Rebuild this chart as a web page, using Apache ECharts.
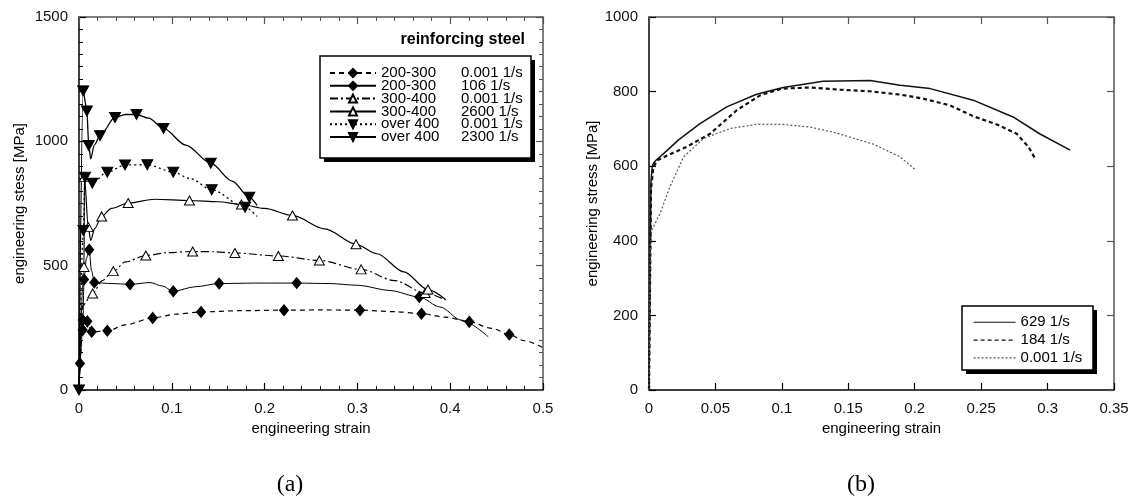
<!DOCTYPE html>
<html>
<head>
<meta charset="utf-8">
<script src="https://cdn.jsdelivr.net/npm/echarts@6/dist/echarts.min.js"></script>
<style>
  html, body { margin: 0; padding: 0; background: #fff; }
  #chart { width: 1140px; height: 499px; }
</style>
</head>
<body>
<div id="chart"></div>
<script>
// ---------- (a) reinforcing steel: engineering stress [MPa] vs engineering strain ----------
const steelGrades = ['200-300', '200-300', '300-400', '300-400', 'over 400', 'over 400'];
const steelRates  = ['0.001 1/s', '106 1/s', '0.001 1/s', '2600 1/s', '0.001 1/s', '2300 1/s'];

// 200-300, 0.001 1/s
const g200Static = [[0,0],[0.001,107],[0.004,281],[0.009,276],[0.0137,234],[0.0305,238],[0.05,262],[0.0794,290],
  [0.105,305],[0.1315,314],[0.175,319],[0.2209,321],[0.26,322],[0.3028,321],[0.34,315],[0.369,307],[0.395,293],
  [0.4206,274],[0.445,248],[0.4637,223],[0.48,198],[0.5,170]];
const g200StaticMarks = [[0.001,107],[0.004,281],[0.009,276],[0.0137,234],[0.0305,238],[0.0794,290],[0.1315,314],
  [0.2209,321],[0.3028,321],[0.369,307],[0.4206,274],[0.4637,223]];

// 200-300, 106 1/s
const g200Dyn = [[0,0],[0.004,241],[0.0054,444],[0.008,530],[0.011,564],[0.0135,480],[0.0165,432],[0.035,428],
  [0.055,425],[0.0765,432],[0.09,418],[0.1016,397],[0.125,415],[0.151,428],[0.19,430],[0.2346,430],[0.27,428],
  [0.301,421],[0.335,400],[0.3667,374],[0.389,334],[0.412,281],[0.441,214]];
const g200DynMarks = [[0.004,241],[0.0054,444],[0.011,564],[0.0165,432],[0.055,425],[0.1016,397],[0.151,428],
  [0.2346,430],[0.3667,374]];

// 300-400, 0.001 1/s
const g300Static = [[0,0],[0.004,340],[0.0147,388],[0.025,440],[0.037,478],[0.05,515],[0.072,541],[0.095,552],
  [0.1225,557],[0.145,556],[0.168,551],[0.2148,539],[0.259,521],[0.304,485],[0.34,440],[0.373,390],[0.395,362]];
const g300StaticMarks = [[0.0147,388],[0.037,478],[0.072,541],[0.1225,557],[0.168,551],[0.2148,539],[0.259,521],
  [0.304,485],[0.373,390]];

// 300-400, 2600 1/s
const g300Dyn = [[0,0],[0.0054,495],[0.0058,856],[0.01,655],[0.0126,602],[0.017,650],[0.0244,698],[0.035,730],
  [0.053,752],[0.082,767],[0.119,762],[0.15,757],[0.175,746],[0.2,730],[0.23,702],[0.265,648],[0.2985,586],
  [0.321,548],[0.35,475],[0.376,404],[0.395,364]];
const g300DynMarks = [[0.0054,495],[0.0058,856],[0.01,655],[0.0244,698],[0.053,752],[0.119,762],[0.175,746],
  [0.23,702],[0.2985,586],[0.376,404]];

// over 400, 0.001 1/s
const g400Static = [[0,0],[0.0047,642],[0.0065,856],[0.0143,832],[0.0305,876],[0.0496,905],[0.0736,906],
  [0.1016,876],[0.12,850],[0.143,805],[0.179,735],[0.192,698]];
const g400StaticMarks = [[0.0047,642],[0.0065,856],[0.0143,832],[0.0305,876],[0.0496,905],[0.0736,906],
  [0.1016,876],[0.143,805],[0.179,735]];

// over 400, 2300 1/s
const g400Dyn = [[0,0],[0.0045,1203],[0.0085,1122],[0.0105,983],[0.0126,930],[0.0165,985],[0.0226,1023],
  [0.0388,1096],[0.05,1108],[0.062,1108],[0.075,1093],[0.091,1052],[0.115,985],[0.142,912],[0.165,840],
  [0.1835,775],[0.192,742]];
const g400DynMarks = [[0,0],[0.0045,1203],[0.0085,1122],[0.0105,983],[0.0226,1023],[0.0388,1096],[0.062,1108],
  [0.091,1052],[0.142,912],[0.1835,775]];

// ---------- (b) stress-strain curves at three strain rates ----------
const rateLabels = ['629 1/s', '184 1/s', '0.001 1/s'];
const rate629 = [[0,0],[0.0015,560],[0.0025,600],[0.0033,607],[0.0053,616],[0.0133,641],[0.022,670],[0.0384,714],
  [0.0585,759],[0.081,793],[0.101,811],[0.131,828],[0.1664,830],[0.189,817],[0.2116,808],[0.244,777],
  [0.274,732],[0.294,687],[0.317,643]];
const rate184 = [[0,0],[0.0015,540],[0.0033,598],[0.0063,616],[0.0158,632],[0.0284,652],[0.046,687],[0.066,750],
  [0.0836,790],[0.0999,808],[0.1212,811],[0.1438,805],[0.166,801],[0.189,792],[0.2065,781],[0.2267,763],
  [0.244,734],[0.2618,712],[0.2768,687],[0.2856,652],[0.2907,620]];
const rate0001 = [[0,0],[0.001,380],[0.002,428],[0.0083,473],[0.0158,545],[0.026,625],[0.041,674],[0.061,701],
  [0.081,712],[0.1011,712],[0.1212,705],[0.141,689],[0.169,659],[0.189,625],[0.201,589]];

const FONT = '"Liberation Sans", Arial, Helvetica, sans-serif';

const curvesA = [g200Static, g200Dyn, g300Static, g300Dyn, g400Static, g400Dyn];
const marksA  = [g200StaticMarks, g200DynMarks, g300StaticMarks, g300DynMarks, g400StaticMarks, g400DynMarks];
const namesA  = steelGrades.map((g, i) => g + ' ' + steelRates[i]);

// line and marker look for each curve of (a)
const looksA = [
  { symbol: 'diamond',  size: [9, 11], rotate: 0,   fill: '#000', dash: [5, 4],       width: 1.2 },
  { symbol: 'diamond',  size: [9, 11], rotate: 0,   fill: '#000', dash: 'solid',      width: 1 },
  { symbol: 'triangle', size: [10, 9], rotate: 0,   fill: '#fff', dash: [8, 3, 2, 3], width: 1.2 },
  { symbol: 'triangle', size: [10, 9], rotate: 0,   fill: '#fff', dash: 'solid',      width: 1.2 },
  { symbol: 'triangle', size: [11, 10], rotate: 180, fill: '#000', dash: [2, 3],      width: 1.3 },
  { symbol: 'triangle', size: [11, 10], rotate: 180, fill: '#000', dash: 'solid',     width: 1.3 }
];

const curvesB = [rate629, rate184, rate0001];
const looksB = [
  { color: '#111', dash: 'solid', width: 1.5 },
  { color: '#111', dash: [4, 3],  width: 2.2 },
  { color: '#555', dash: [2, 2],  width: 1.2 }
];

const series = [];
curvesA.forEach((pts, i) => {
  const lk = looksA[i];
  series.push({
    type: 'line', name: namesA[i], xAxisIndex: 0, yAxisIndex: 0,
    data: pts, smooth: 0.3, smoothMonotone: 'x', showSymbol: false,
    symbol: lk.symbol, symbolSize: lk.size, symbolRotate: lk.rotate,
    itemStyle: { color: lk.fill, borderColor: '#000', borderWidth: 1 },
    lineStyle: { color: '#000', type: lk.dash, width: lk.width },
    emphasis: { disabled: true }, z: 2
  });
});
marksA.forEach((pts, i) => {
  const lk = looksA[i];
  series.push({
    type: 'scatter', name: namesA[i], xAxisIndex: 0, yAxisIndex: 0,
    data: pts, symbol: lk.symbol, symbolSize: lk.size, symbolRotate: lk.rotate,
    itemStyle: { color: lk.fill, borderColor: '#000', borderWidth: 1, opacity: 1 },
    emphasis: { disabled: true }, z: 3
  });
});
curvesB.forEach((pts, i) => {
  const lk = looksB[i];
  series.push({
    type: 'line', name: rateLabels[i], xAxisIndex: 2, yAxisIndex: 2,
    data: pts, smooth: false, showSymbol: false,
    symbol: 'circle', itemStyle: { color: 'rgba(0,0,0,0)', borderWidth: 0 },
    lineStyle: { color: lk.color, type: lk.dash, width: lk.width, join: 'round' },
    emphasis: { disabled: true }, z: 2
  });
});

function valueAxis(opts) {
  return {
    type: 'value', gridIndex: opts.grid, position: opts.position,
    min: opts.min, max: opts.max, interval: opts.interval,
    name: opts.name || '', nameLocation: 'middle', nameGap: opts.nameGap || 0,
    nameTextStyle: { fontFamily: FONT, fontSize: 15, color: '#000' },
    axisLine: { show: true, onZero: false, lineStyle: { color: opts.lineColor, width: 1.5 } },
    axisTick: { show: true, inside: true, length: 7, lineStyle: { color: opts.lineColor, width: 1.2 } },
    minorTick: { show: !!opts.minor, splitNumber: opts.minor || 5, length: 4,
                 lineStyle: { color: opts.lineColor, width: 1 } },
    axisLabel: { show: !!opts.labels, margin: 11, fontFamily: FONT, fontSize: 15, color: '#111',
                 formatter: v => String(v) },
    splitLine: { show: false }
  };
}

// framed legend box with a hard drop shadow
function legendBox(x, y, w, h) {
  return [
    { type: 'rect', z: 50, shape: { x: x + 4, y: y + 4, width: w, height: h }, style: { fill: '#000' } },
    { type: 'rect', z: 51, shape: { x: x, y: y, width: w, height: h },
      style: { fill: '#fff', stroke: '#000', lineWidth: 1.5 } }
  ];
}

const option = {
  animation: false,
  backgroundColor: '#fff',
  grid: [
    { left: 79, top: 17, width: 464, height: 373 },
    { left: 649, top: 17, width: 465, height: 373 }
  ],
  xAxis: [
    valueAxis({ grid: 0, position: 'bottom', min: 0, max: 0.5, interval: 0.1, minor: 5, labels: true,
                name: 'engineering strain', nameGap: 31, lineColor: '#000' }),
    valueAxis({ grid: 0, position: 'top', min: 0, max: 0.5, interval: 0.1, minor: 5, lineColor: '#555' }),
    valueAxis({ grid: 1, position: 'bottom', min: 0, max: 0.35, interval: 0.05, labels: true,
                name: 'engineering strain', nameGap: 31, lineColor: '#000' }),
    valueAxis({ grid: 1, position: 'top', min: 0, max: 0.35, interval: 0.05, lineColor: '#555' })
  ],
  yAxis: [
    valueAxis({ grid: 0, position: 'left', min: 0, max: 1500, interval: 500, minor: 10, labels: true,
                name: 'engineering stess [MPa]', nameGap: 52, lineColor: '#000' }),
    valueAxis({ grid: 0, position: 'right', min: 0, max: 1500, interval: 500, minor: 10, lineColor: '#555' }),
    valueAxis({ grid: 1, position: 'left', min: 0, max: 1000, interval: 200, labels: true,
                name: 'engineering stress [MPa]', nameGap: 34, lineColor: '#000' }),
    valueAxis({ grid: 1, position: 'right', min: 0, max: 1000, interval: 200, lineColor: '#555' })
  ],
  title: {
    text: 'reinforcing steel', right: 610, top: 27,
    textStyle: { fontFamily: FONT, fontSize: 16, fontWeight: 'bold', color: '#000' }
  },
  legend: [
    {
      data: namesA, orient: 'vertical', left: 329, top: 65.5, z: 60,
      padding: 0, itemGap: -2.2, itemWidth: 46, itemHeight: 10, itemTextGap: 3,
      selectedMode: false,
      formatter: name => {
        const i = namesA.indexOf(name);
        return '{g|' + steelGrades[i] + '}{r|' + steelRates[i] + '}';
      },
      textStyle: {
        fontFamily: FONT, fontSize: 15, color: '#000',
        rich: {
          g: { width: 80, fontFamily: FONT, fontSize: 15, color: '#000' },
          r: { fontFamily: FONT, fontSize: 15, color: '#000' }
        }
      }
    },
    {
      data: rateLabels, orient: 'vertical', left: 973, top: 313.5, z: 60,
      padding: 0, itemGap: 0.3, itemWidth: 42, itemHeight: 10, itemTextGap: 4,
      selectedMode: false,
      lineStyle: { width: 1.2 },
      textStyle: { fontFamily: FONT, fontSize: 15, color: '#000', lineHeight: 17.5 }
    }
  ],
  graphic: [
    ...legendBox(320, 56, 211, 102),
    ...legendBox(962, 306, 131, 64),
    { type: 'text', x: 290, y: 485,
      style: { text: '(a)', font: '24px "Liberation Serif", "Times New Roman", serif',
               fill: '#000', align: 'center', verticalAlign: 'middle' } },
    { type: 'text', x: 861, y: 485,
      style: { text: '(b)', font: '24px "Liberation Serif", "Times New Roman", serif',
               fill: '#000', align: 'center', verticalAlign: 'middle' } }
  ],
  series: series
};

const chart = echarts.init(document.getElementById('chart'), null, { renderer: 'canvas' });
chart.setOption(option);
</script>
</body>
</html>
